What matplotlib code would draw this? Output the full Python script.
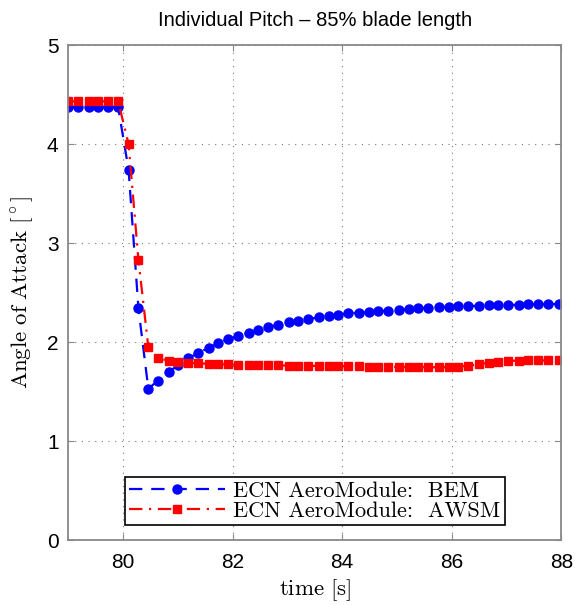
import numpy as np
import matplotlib
matplotlib.use('Agg')
import matplotlib.pyplot as plt

# sample times [s]
time = [79.00, 79.18, 79.37, 79.55, 79.73, 79.91, 80.10, 80.28, 80.46, 80.64,
        80.83, 81.01, 81.19, 81.37, 81.56, 81.74, 81.92, 82.10, 82.29, 82.47,
        82.65, 82.83, 83.02, 83.20, 83.38, 83.57, 83.75, 83.93, 84.11, 84.30,
        84.48, 84.66, 84.84, 85.03, 85.21, 85.39, 85.57, 85.76, 85.94, 86.12,
        86.30, 86.49, 86.67, 86.85, 87.03, 87.22, 87.40, 87.58, 87.76, 87.95,
        88.13]

# angle of attack [deg], ECN AeroModule BEM
aoa_bem = [4.37, 4.37, 4.37, 4.37, 4.37, 4.37, 3.74, 2.34, 1.53, 1.61,
           1.70, 1.765, 1.835, 1.89, 1.94, 1.99, 2.03, 2.06, 2.09, 2.12,
           2.15, 2.175, 2.20, 2.215, 2.23, 2.25, 2.26, 2.275, 2.29, 2.296,
           2.30, 2.31, 2.316, 2.326, 2.33, 2.34, 2.347, 2.35, 2.357, 2.36,
           2.364, 2.366, 2.37, 2.37, 2.374, 2.376, 2.38, 2.38, 2.384, 2.384,
           2.386]

# angle of attack [deg], ECN AeroModule AWSM
aoa_awsm = [4.43, 4.43, 4.43, 4.43, 4.43, 4.43, 4.00, 2.83, 1.95, 1.84,
            1.81, 1.795, 1.79, 1.785, 1.78, 1.776, 1.773, 1.77, 1.768, 1.766,
            1.765, 1.763, 1.762, 1.76, 1.76, 1.758, 1.757, 1.756, 1.755, 1.754,
            1.752, 1.75, 1.75, 1.748, 1.747, 1.747, 1.747, 1.744, 1.747, 1.752,
            1.76, 1.775, 1.79, 1.80, 1.81, 1.812, 1.815, 1.815, 1.815, 1.815,
            1.815]

xticks = [80, 82, 84, 86, 88]
yticks = [0, 1, 2, 3, 4, 5]

plt.rcParams['font.family'] = ['Liberation Sans', 'DejaVu Sans']
plt.rcParams['mathtext.fontset'] = 'cm'

fig = plt.figure(figsize=(5.76, 6.05), dpi=100)
ax = fig.add_axes([0.1186, 0.1074, 0.856, 0.8182])

ax.plot(time, aoa_bem, color='#0000ff', linestyle=(0, (6, 4)), linewidth=1.6,
        marker='o', markersize=6.5, label='ECN AeroModule:  BEM')
ax.plot(time, aoa_awsm, color='#ff0000', linestyle=(0, (6, 3, 1, 3)), linewidth=1.6,
        marker='s', markersize=6, label='ECN AeroModule:  AWSM')

ax.set_xlim(79, 88)
ax.set_ylim(0, 5)
ax.set_xticks(xticks)
ax.set_yticks(yticks)
ax.tick_params(direction='in', top=True, right=True, labelsize=15,
               length=4, color='#888888')
ax.tick_params(axis='x', pad=9)
ax.tick_params(axis='y', pad=7)
ax.grid(True, linestyle=(0, (1, 5)), color='#777777', linewidth=0.8)
for s in ax.spines.values():
    s.set_color('#888888')
    s.set_linewidth(1.3)

ax.set_title('Individual Pitch \u2013 85% blade length', fontsize=14.5, pad=14)
ax.set_xlabel(r'$\mathrm{time\ [s]}$', fontsize=16.5, labelpad=4)
ax.set_ylabel(r'$\mathrm{Angle\ of\ Attack\ [^\circ]}$', fontsize=16.5, labelpad=7)

leg = ax.legend(loc='lower center', bbox_to_anchor=(0.5, 0.03),
                prop={'family': 'cmr10', 'size': 16},
                handlelength=4.3, fancybox=False, edgecolor='black',
                framealpha=1, borderpad=0.2, labelspacing=0.0,
                handletextpad=0.4, borderaxespad=0)
leg.get_frame().set_linewidth(1.2)

fig.savefig('out.png', dpi=100)
